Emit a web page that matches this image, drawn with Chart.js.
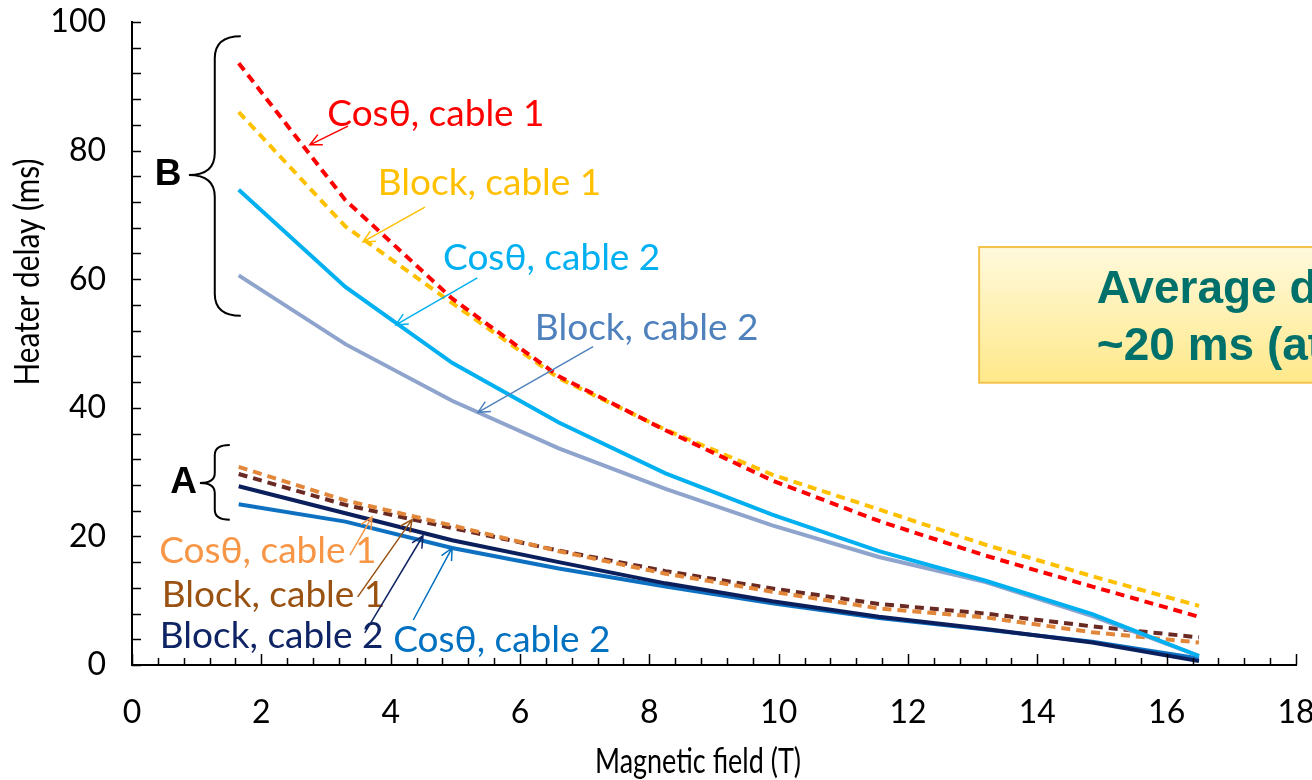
<!DOCTYPE html>
<html lang="en">
<head>
  <meta charset="UTF-8">
  <title>Heater delay vs magnetic field</title>
  <script src="https://cdn.jsdelivr.net/npm/chart.js"></script>
  <style>
    html, body { margin: 0; padding: 0; background: #fff; overflow: hidden; }
    #wrap { width: 1312px; height: 780px; }
  </style>
</head>
<body>
<div id="wrap"><canvas id="delayChart" width="1312" height="780"></canvas></div>

<script>
// ---- data ----
const fieldT = [1.65, 3.3, 4.95, 6.6, 8.25, 9.9, 11.55, 13.2, 14.85, 16.5];

// group B
const cosCable1B   = [93.6, 72.3, 57.0, 44.9, 36.5, 28.7, 22.4, 17.0, 12.2, 7.5];
const blockCable1B = [86.0, 68.2, 56.3, 44.6, 36.6, 29.6, 24.2, 18.7, 13.8, 9.2];
const cosCable2B   = [73.9, 58.8, 47.0, 37.7, 29.8, 23.4, 17.7, 13.1, 7.9, 1.4];
const blockCable2B = [60.6, 49.9, 41.1, 33.7, 27.4, 21.7, 16.8, 12.9, 7.6, 1.4];

// group A
const cosCable1A   = [30.8, 25.6, 21.7, 17.7, 14.2, 11.4, 8.8, 7.4, 5.1, 3.5];
const blockCable1A = [29.7, 24.9, 21.3, 17.8, 14.6, 11.9, 9.5, 8.0, 6.0, 4.3];
const blockCable2A = [27.8, 23.6, 19.4, 16.0, 12.7, 9.9, 7.5, 5.6, 3.5, 0.6];
const cosCable2A   = [25.0, 22.3, 18.2, 15.0, 12.2, 9.6, 7.3, 5.5, 3.6, 1.0];

const xTitle = 'Magnetic field (T)';
const yTitle = 'Heater delay (ms)';
const boxLines = ['Average difference', '~20 ms (at low field)'];

const axisFont = "Lato, 'Open Sans', sans-serif";
const labelFont = "Lato, 'Open Sans', sans-serif";

function pts(vals) {
  return fieldT.map((t, i) => ({ x: t, y: vals[i] }));
}

function series(label, vals, color, dashed) {
  return {
    label: label,
    data: pts(vals),
    borderColor: color,
    backgroundColor: color,
    borderWidth: 4,
    borderDash: dashed ? [9, 6] : [],
    pointRadius: 0,
    tension: 0,
    fill: false
  };
}

// call-outs: text anchor, arrow tail and head in data units
const callouts = [
  { text: 'Cosθ, cable 1',  color: '#FF0000', at: [3.02, 83.8], from: [3.34, 83.8], to: [2.75, 80.9] },
  { text: 'Block, cable 1', color: '#FFC000', at: [3.80, 73.1], from: [4.53, 71.2], to: [3.57, 65.8] },
  { text: 'Cosθ, cable 2',  color: '#00B0F0', at: [4.81, 61.4], from: [5.34, 60.2], to: [4.08, 52.9] },
  { text: 'Block, cable 2', color: '#4F81BD', at: [6.23, 50.5], from: [7.13, 49.5], to: [5.35, 39.3] },
  { text: 'Cosθ, cable 1',  color: '#F79646', at: [0.42, 15.9], from: [3.37, 17.1], to: [3.71, 23.0] },
  { text: 'Block, cable 1', color: '#9A5212', at: [0.46, 9.0],  from: [3.49, 10.6], to: [4.33, 22.6] },
  { text: 'Block, cable 2', color: '#0F2464', at: [0.43, 2.6],  from: [3.60, 5.0],  to: [4.50, 20.1] },
  { text: 'Cosθ, cable 2',  color: '#0070C0', at: [4.04, 2.0],  from: [4.35, 7.0],  to: [4.95, 18.2] }
];

function arrow(ctx, x1, y1, x2, y2, color) {
  const ang = Math.atan2(y2 - y1, x2 - x1);
  const h = 13;
  ctx.strokeStyle = color;
  ctx.lineWidth = 1.5;
  ctx.beginPath();
  ctx.moveTo(x1, y1);
  ctx.lineTo(x2, y2);
  ctx.moveTo(x2 - h * Math.cos(ang - 0.45), y2 - h * Math.sin(ang - 0.45));
  ctx.lineTo(x2, y2);
  ctx.lineTo(x2 - h * Math.cos(ang + 0.45), y2 - h * Math.sin(ang + 0.45));
  ctx.stroke();
}

function brace(ctx, xv, top, mid, bot, tipX, curl, bend) {
  ctx.beginPath();
  ctx.moveTo(xv + curl, top);
  ctx.quadraticCurveTo(xv, top, xv, top + bend);
  ctx.lineTo(xv, mid - bend);
  ctx.quadraticCurveTo(xv, mid, tipX, mid);
  ctx.quadraticCurveTo(xv, mid, xv, mid + bend);
  ctx.lineTo(xv, bot - bend);
  ctx.quadraticCurveTo(xv, bot, xv + curl, bot);
  ctx.stroke();
}

// text squeezed to a given length (the original axis text is tall and narrow)
function fitText(ctx, text, cx, cy, len) {
  const w = ctx.measureText(text).width;
  ctx.save();
  ctx.translate(cx, cy);
  ctx.scale(len / w, 1);
  ctx.fillText(text, 0, 0);
  ctx.restore();
}

const decorations = {
  id: 'decorations',
  afterDatasetsDraw(chart) {
    const { ctx, scales: { x, y } } = chart;
    const X = v => x.getPixelForValue(v);
    const Y = v => y.getPixelForValue(v);
    ctx.save();

    // inward tick marks
    ctx.strokeStyle = '#000';
    ctx.lineWidth = 1.5;
    ctx.beginPath();
    for (let i = 0; i <= 45; i++) {
      const px = Math.round(X(i * 0.4)) + 0.5;
      const len = (i % 5 === 0) ? 11 : 7;
      ctx.moveTo(px, y.bottom);
      ctx.lineTo(px, y.bottom - len);
    }
    for (let i = 0; i <= 25; i++) {
      const py = Math.round(Y(i * 4)) + 0.5;
      ctx.moveTo(x.left, py);
      ctx.lineTo(x.left + 9, py);
    }
    ctx.stroke();

    // braces A and B
    ctx.strokeStyle = '#000';
    ctx.lineWidth = 2;
    brace(ctx, X(1.28), Y(97.8), Y(76.2), Y(54.3), X(0.88), 26, 22);
    brace(ctx, X(1.28), Y(34.2), Y(28.3), Y(22.6), X(1.05), 15, 10);
    ctx.fillStyle = '#000';
    ctx.font = "bold 37px 'Liberation Sans', Arial, sans-serif";
    ctx.textAlign = 'center';
    ctx.textBaseline = 'middle';
    ctx.fillText('B', X(0.56), Y(76.3));
    ctx.fillText('A', X(0.80), Y(28.3));

    // call-out labels with arrows
    ctx.font = '37px ' + labelFont;
    ctx.textAlign = 'left';
    ctx.textBaseline = 'alphabetic';
    callouts.forEach(c => {
      ctx.fillStyle = c.color;
      ctx.fillText(c.text, X(c.at[0]), Y(c.at[1]));
      arrow(ctx, X(c.from[0]), Y(c.from[1]), X(c.to[0]), Y(c.to[1]), c.color);
    });

    ctx.restore();
  },
  afterDraw(chart) {
    const { ctx, scales: { x, y } } = chart;
    const X = v => x.getPixelForValue(v);
    const Y = v => y.getPixelForValue(v);
    ctx.save();

    // axis titles
    ctx.fillStyle = '#000';
    ctx.textAlign = 'center';
    ctx.textBaseline = 'middle';
    ctx.font = '34px ' + axisFont;
    fitText(ctx, xTitle, 698, 762, 206);
    ctx.save();
    ctx.translate(28, 272);
    ctx.rotate(-Math.PI / 2);
    fitText(ctx, yTitle, 0, 0, 227);
    ctx.restore();

    // yellow note box (runs off the right edge)
    const bx = X(13.1), by = Y(65.0), bb = Y(43.9);
    const g = ctx.createLinearGradient(0, by, 0, bb);
    g.addColorStop(0, '#FFF9DC');
    g.addColorStop(1, '#FFE98A');
    ctx.fillStyle = g;
    ctx.fillRect(bx, by, 1400 - bx, bb - by);
    ctx.strokeStyle = '#F3C24A';
    ctx.lineWidth = 2;
    ctx.strokeRect(bx, by, 1400 - bx, bb - by);

    ctx.fillStyle = '#00706A';
    ctx.font = "bold 46px 'Liberation Sans', Arial, sans-serif";
    ctx.textAlign = 'left';
    ctx.textBaseline = 'alphabetic';
    ctx.fillText(boxLines[0], X(14.92), Y(56.3));
    ctx.fillText(boxLines[1], X(14.92), Y(47.4));

    ctx.restore();
  }
};

new Chart(document.getElementById('delayChart'), {
  type: 'line',
  data: {
    datasets: [
      series('Cosθ, cable 1 (B)',  cosCable1B,   '#FF0000', true),
      series('Block, cable 1 (B)', blockCable1B, '#FFC000', true),
      series('Cosθ, cable 2 (B)',  cosCable2B,   '#00B0F0', false),
      series('Block, cable 2 (B)', blockCable2B, '#8EA4CC', false),
      series('Cosθ, cable 1 (A)',  cosCable1A,   '#E2873A', true),
      series('Block, cable 1 (A)', blockCable1A, '#6A2A24', true),
      series('Block, cable 2 (A)', blockCable2A, '#0B1F5C', false),
      series('Cosθ, cable 2 (A)',  cosCable2A,   '#0E70C0', false)
    ]
  },
  options: {
    responsive: false,
    animation: false,
    devicePixelRatio: 1,
    layout: { padding: { top: 22, right: 16, left: 0, bottom: 0 } },
    plugins: {
      legend: { display: false },
      tooltip: { enabled: false }
    },
    scales: {
      x: {
        type: 'linear',
        min: 0,
        max: 18,
        ticks: {
          stepSize: 2,
          color: '#000',
          padding: 28,
          font: { family: axisFont, size: 32 }
        },
        grid: { display: false, drawTicks: false },
        border: { display: true, color: '#000', width: 2 },
        afterFit: s => {
          s.height = 115;
          s.paddingLeft = 0;
          s.paddingRight = 0;
        }
      },
      y: {
        min: 0,
        max: 100,
        ticks: {
          stepSize: 20,
          color: '#000',
          padding: 26,
          font: { family: axisFont, size: 32 }
        },
        grid: { display: false, drawTicks: false },
        border: { display: true, color: '#000', width: 2 },
        afterFit: s => {
          s.width = 132;
          s.paddingTop = 0;
          s.paddingBottom = 0;
        }
      }
    }
  },
  plugins: [decorations]
});
</script>
</body>
</html>
